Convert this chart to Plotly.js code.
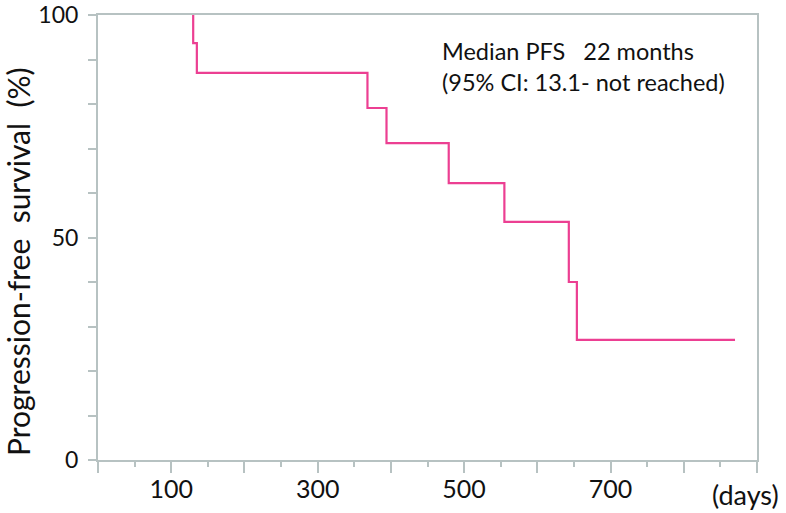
<!DOCTYPE html>
<html>
<head>
<meta charset="utf-8">
<script src="https://cdn.plot.ly/plotly-3.0.1.min.js"></script>
<style>html,body{margin:0;padding:0;background:#fff;}#chart{width:786px;height:513px;}</style>
</head>
<body>
<div id="chart"></div>
<script>
// Kaplan-Meier step points (days, % progression-free)
const days = [130, 130, 135, 368, 394, 479, 555, 643, 654, 870];
const survival = [100, 93.7, 87.0, 79.1, 71.2, 62.2, 53.5, 40.0, 27.0, 27.0];
const xTickVals = [0, 100, 200, 300, 400, 500, 600, 700, 800, 900];
const xTickText = ['', '100', '', '300', '', '500', '', '700', '', ''];
const yTickVals = [0, 10, 20, 30, 40, 50, 60, 70, 80, 90, 100];
const yTickText = ['0', '', '', '', '', '50', '', '', '', '', '100'];

const axisColor = '#b7c2c2';
const fontFam = 'Lato, "Open Sans", sans-serif';
const sp2 = '\u00A0\u00A0';
const sp3 = '\u00A0\u00A0\u00A0';

const trace = {
  x: days, y: survival, type: 'scatter', mode: 'lines',
  line: {shape: 'hv', color: '#ec3f92', width: 2.2},
  hoverinfo: 'skip'
};

const layout = {
  width: 786, height: 513,
  margin: {l: 98, r: 29, t: 15, b: 53, pad: 0},
  paper_bgcolor: '#fff', plot_bgcolor: '#fff',
  showlegend: false,
  font: {family: fontFam, color: '#111', size: 21},
  xaxis: {
    range: [0, 900], showgrid: false, zeroline: false,
    showline: true, linecolor: axisColor, linewidth: 2, mirror: true,
    tickmode: 'array', tickvals: xTickVals, ticktext: xTickText,
    ticks: 'outside', ticklen: 11, tickwidth: 2, tickcolor: axisColor,
    minor: {tickmode: 'linear', tick0: 0, dtick: 50, ticks: 'outside', ticklen: 5, tickwidth: 2, tickcolor: axisColor, showgrid: false},
    tickfont: {family: fontFam, size: 25, color: '#111'},
    ticklabelstandoff: -5
  },
  yaxis: {
    range: [0, 100], showgrid: false, zeroline: false,
    showline: true, linecolor: axisColor, linewidth: 2, mirror: true,
    tickmode: 'array', tickvals: yTickVals, ticktext: yTickText,
    ticks: 'outside', ticklen: 8, tickwidth: 2, tickcolor: axisColor,
    tickfont: {family: fontFam, size: 23, color: '#111'},
    ticklabelstandoff: 5
  },
  annotations: [
    {xref: 'paper', yref: 'paper', x: (18 - 98) / 659, y: (460 - 262) / 445,
     text: 'Progression-free' + sp2 + 'survival' + sp2 + '(%)', textangle: -90, showarrow: false,
     xanchor: 'center', yanchor: 'middle', font: {family: fontFam, size: 30, color: '#111'}},
    {xref: 'paper', yref: 'paper', x: (710 - 98) / 659, y: (460 - 494) / 445,
     text: '(days)', showarrow: false, xanchor: 'left', yanchor: 'middle',
     font: {family: fontFam, size: 27, color: '#111'}},
    {xref: 'paper', yref: 'paper', x: (440 - 98) / 659, y: (460 - 35) / 445,
     text: 'Median PFS' + sp3 + '22 months<br>(95% CI: 13.1- not reached)', showarrow: false,
     xanchor: 'left', yanchor: 'top', align: 'left',
     font: {family: fontFam, size: 23.5, color: '#111'}}
  ]
};

Plotly.newPlot('chart', [trace], layout, {staticPlot: true, displayModeBar: false});
</script>
</body>
</html>
